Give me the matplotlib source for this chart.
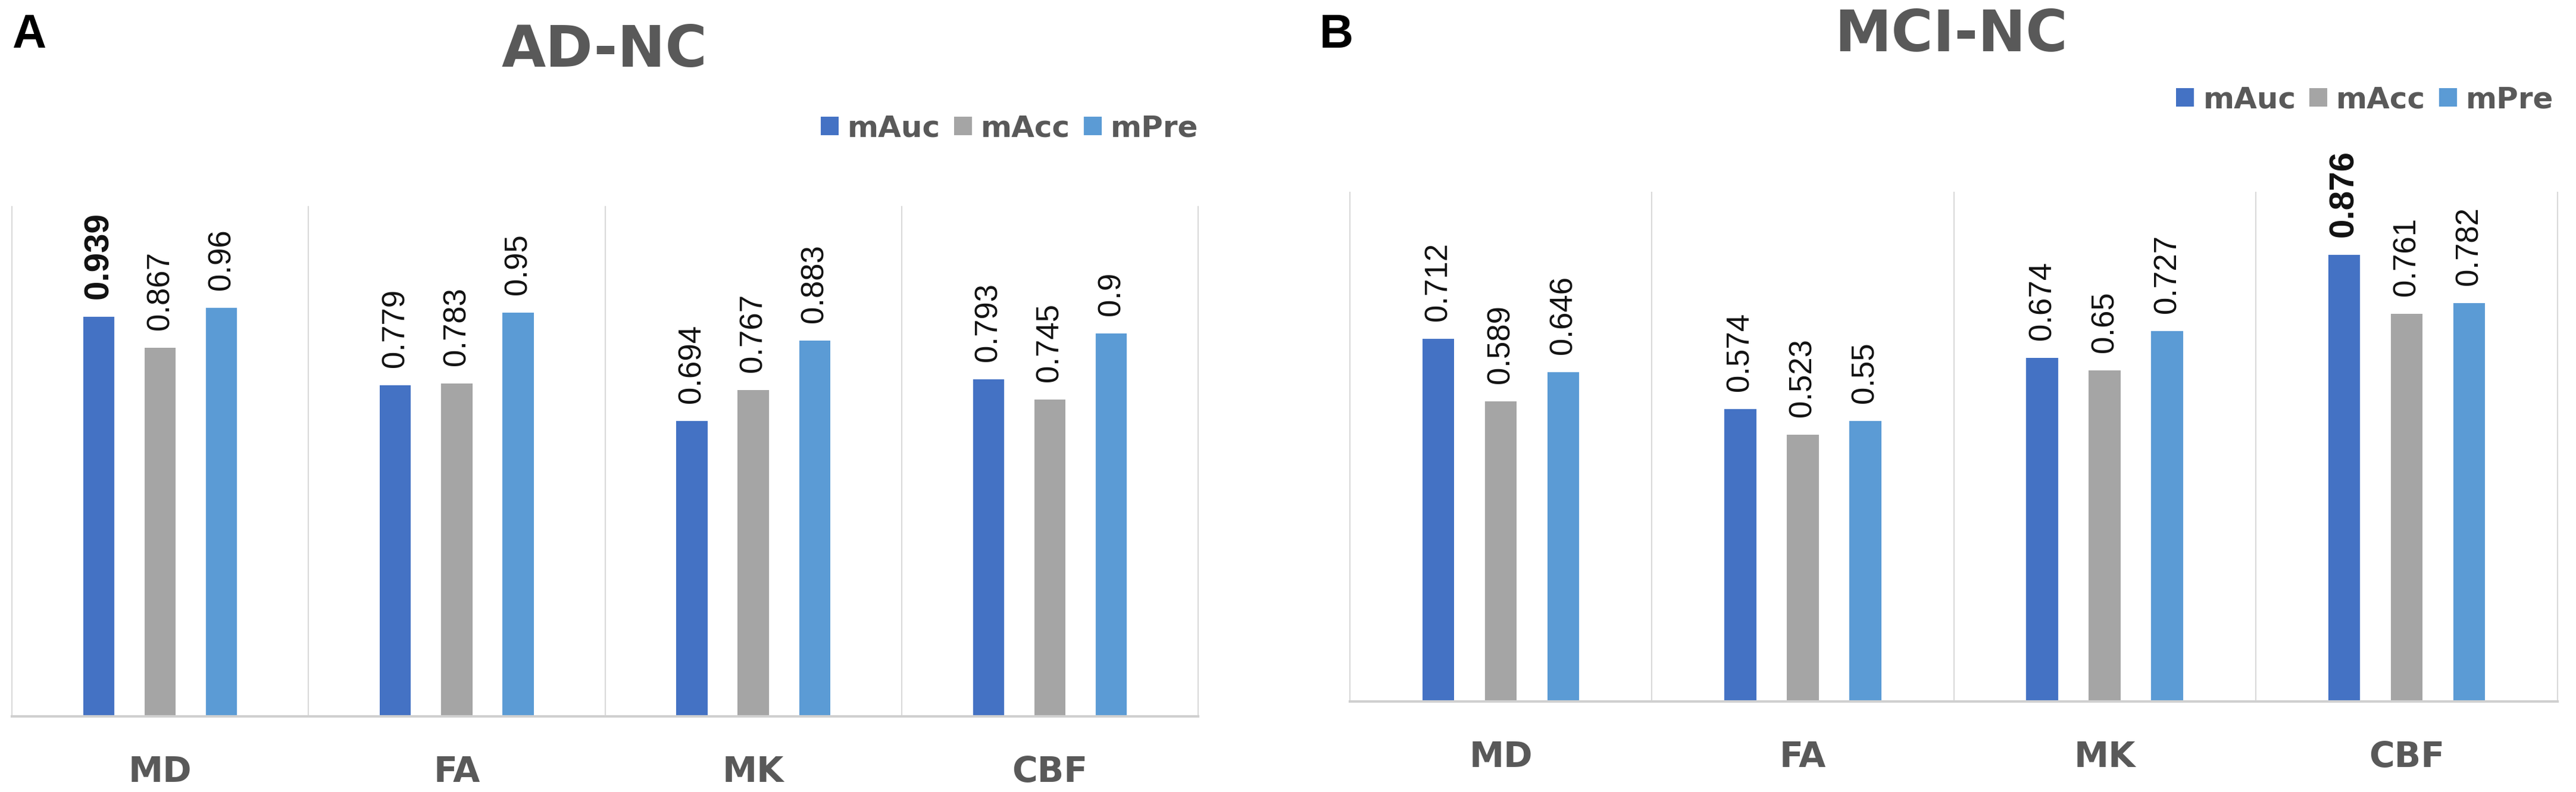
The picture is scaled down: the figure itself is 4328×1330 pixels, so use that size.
import matplotlib
matplotlib.use("Agg")
import matplotlib.pyplot as plt
from matplotlib.patches import Patch
import numpy as np

# ---------------------------------------------------------------------------
# Data
# ---------------------------------------------------------------------------
categories = ["MD", "FA", "MK", "CBF"]
series_names = ["mAuc", "mAcc", "mPre"]

ad_nc_mauc = [0.939, 0.779, 0.694, 0.793]
ad_nc_macc = [0.867, 0.783, 0.767, 0.745]
ad_nc_mpre = [0.96, 0.95, 0.883, 0.9]

mci_nc_mauc = [0.712, 0.574, 0.674, 0.876]
mci_nc_macc = [0.589, 0.523, 0.65, 0.761]
mci_nc_mpre = [0.646, 0.55, 0.727, 0.782]

COLORS = ["#4472C4", "#A5A5A5", "#5B9BD5"]
TEXT_GRAY = "#595959"
GRID_GRAY = "#D9D9D9"

W, H = 4328, 1330  # output size in pixels at dpi=100


def px_box(left, top, right, bottom):
    """Pixel box -> figure fraction [l, b, w, h]."""
    return [left / W, 1 - bottom / H, (right - left) / W, (bottom - top) / H]


def draw_panel(fig, rect, ymax, series):
    ax = fig.add_axes(rect)
    x = np.arange(len(categories))
    width, step = 0.105, 0.207

    best = max(series[0])
    for k, vals in enumerate(series):
        xs = x + (k - 1) * step
        ax.bar(xs, vals, width=width, color=COLORS[k], zorder=2)
        for xi, v in zip(xs, vals):
            bold = (k == 0 and v == best)
            ax.annotate(f"{v:g}", xy=(xi, v), xytext=(0, 30),
                        textcoords="offset pixels", rotation=90,
                        ha="center", va="bottom", color="#111111",
                        family="Liberation Sans",
                        fontsize=42 if bold else 38,
                        fontweight="bold" if bold else "normal")

    # category dividers + base line
    ax.vlines(np.arange(-0.5, len(categories)), 0, ymax, color=GRID_GRAY,
              lw=1.5, zorder=1, clip_on=False)
    ax.axhline(0, color="#D0D0D0", lw=3, zorder=3, clip_on=False)

    for i, cat in enumerate(categories):
        ax.annotate(cat, xy=(i, 0), xytext=(0, -110), textcoords="offset pixels",
                    ha="center", va="baseline", color=TEXT_GRAY,
                    fontsize=42, fontweight="bold", family="DejaVu Sans")

    ax.set_xlim(-0.5, len(categories) - 0.5)
    ax.set_ylim(0, ymax)
    ax.set_xticks([])
    ax.set_yticks([])
    for s in ax.spines.values():
        s.set_visible(False)
    return ax


def main():
    fig = plt.figure(figsize=(W / 100, H / 100), dpi=100)
    fig.patch.set_facecolor("white")

    draw_panel(fig, px_box(20, 346, 2013, 1203), 1.2,
               [ad_nc_mauc, ad_nc_macc, ad_nc_mpre])
    draw_panel(fig, px_box(2268, 322, 4297, 1178), 1.0,
               [mci_nc_mauc, mci_nc_macc, mci_nc_mpre])

    # titles
    fig.text(1015 / W, 1 - 112 / H, "AD-NC", ha="center", va="baseline",
             fontsize=69, fontweight="bold", color=TEXT_GRAY, family="DejaVu Sans")
    fig.text(3278 / W, 1 - 86 / H, "MCI-NC", ha="center", va="baseline",
             fontsize=69, fontweight="bold", color=TEXT_GRAY, family="DejaVu Sans")

    # panel letters
    fig.text(20 / W, 1 - 80 / H, "A", ha="left", va="baseline",
             fontsize=57, fontweight="bold", color="black", family="Liberation Sans")
    fig.text(2217 / W, 1 - 80 / H, "B", ha="left", va="baseline",
             fontsize=57, fontweight="bold", color="black", family="Liberation Sans")

    # legends
    handles = [Patch(facecolor=c, edgecolor="none") for c in COLORS]
    for right, ymid in [(2013, 215), (4290, 167)]:
        leg = fig.legend(handles, series_names, ncol=3, frameon=False,
                         loc="center right", bbox_to_anchor=(right / W, 1 - ymid / H),
                         bbox_transform=fig.transFigure,
                         handlelength=0.6, handleheight=0.6, handletextpad=0.3,
                         columnspacing=0.45, borderpad=0, borderaxespad=0,
                         prop={"family": "DejaVu Sans", "weight": "bold", "size": 36})
        for t in leg.get_texts():
            t.set_color(TEXT_GRAY)

    fig.savefig("out.png", dpi=100, facecolor="white")
    plt.close(fig)


if __name__ == "__main__":
    main()
